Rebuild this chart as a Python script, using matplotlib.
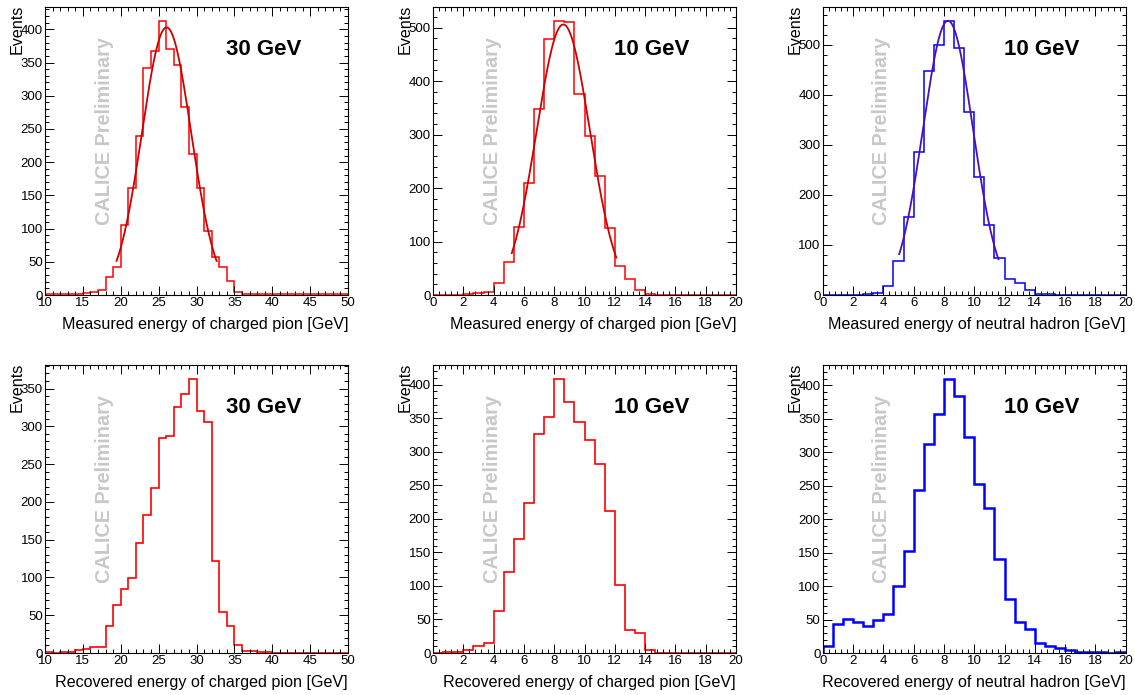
import numpy as np
import matplotlib
matplotlib.use("Agg")
import matplotlib.pyplot as plt
from matplotlib.ticker import MultipleLocator

plt.rcParams['font.family'] = ['Liberation Sans', 'DejaVu Sans']

# --- bin contents -------------------------------------------------------
# 30 GeV charged pion, 40 bins of 1 GeV from 10 to 50
pi30_edges = np.linspace(10, 50, 41)
pi30_measured = [2, 2, 1, 2, 2, 3, 5, 8, 27, 42,
                 106, 161, 239, 342, 368, 413, 371, 347, 283, 213,
                 161, 97, 57, 42, 21, 5, 2, 1, 1, 1,
                 1, 1, 1, 1, 1, 1, 1, 1, 1, 1]
pi30_recovered = [1, 0, 1, 1, 4, 5, 8, 8, 36, 63,
                  85, 99, 146, 182, 218, 285, 287, 326, 343, 363,
                  320, 306, 122, 54, 36, 10, 2, 2, 1, 1,
                  0, 0, 0, 0, 0, 0, 0, 0, 0, 0]

# 10 GeV samples, 30 bins from 0 to 20
e10_edges = np.linspace(0, 20, 31)
pi10_measured = [0, 0, 0, 1, 3, 5, 23, 61, 128, 210,
                 347, 478, 513, 510, 375, 298, 222, 125, 54, 29,
                 9, 2, 0, 0, 0, 0, 0, 0, 0, 0]
pi10_recovered = [0, 1, 1, 4, 10, 15, 62, 121, 170, 223,
                  326, 352, 409, 374, 344, 318, 282, 212, 101, 35,
                  30, 5, 0, 0, 0, 0, 0, 0, 0, 0]
n10_measured = [0, 0, 0, 0, 1, 3, 18, 67, 155, 285,
                448, 499, 548, 493, 366, 235, 140, 74, 31, 23,
                9, 2, 1, 0, 0, 0, 0, 0, 0, 0]
n10_recovered = [11, 43, 51, 47, 40, 49, 58, 100, 153, 243,
                 312, 358, 410, 384, 323, 252, 217, 140, 81, 47,
                 36, 15, 11, 7, 5, 2, 1, 1, 0, 1]

# gaussian fits: (constant, mean, sigma, fit range)
pi30_fit = (403, 26.05, 3.25, (19.45, 32.65))
pi10_fit = (506, 8.6, 1.76, (5.2, 12.1))
n10_fit = (548, 8.27, 1.65, (5.05, 11.6))

energy_labels = ["30 GeV", "10 GeV", "10 GeV"]
x_titles_top = ["Measured energy of charged pion [GeV]",
                "Measured energy of charged pion [GeV]",
                "Measured energy of neutral hadron [GeV]"]
x_titles_bottom = ["Recovered energy of charged pion [GeV]",
                   "Recovered energy of charged pion [GeV]",
                   "Recovered energy of neutral hadron [GeV]"]

RED = "#ff0000"
BLUE = "#0000ff"

W, H = 1135, 695
fig = plt.figure(figsize=(W / 100, H / 100), dpi=100)


def make_axes(left, top, width=303, height=288):
    return fig.add_axes([left / W, 1 - (top + height) / H, width / W, height / H])


def style_axes(ax, edges, major_x, major_y):
    ax.set_xlim(edges[0], edges[-1])
    ax.xaxis.set_major_locator(MultipleLocator(major_x))
    ax.xaxis.set_minor_locator(MultipleLocator(major_x / 5))
    ax.yaxis.set_major_locator(MultipleLocator(major_y))
    ax.yaxis.set_minor_locator(MultipleLocator(major_y / 5))
    ax.tick_params(which='both', direction='in', top=True, right=True,
                   labelsize=9.5, width=0.7, pad=1.5)
    ax.tick_params(which='major', length=6.2)
    ax.tick_params(which='minor', length=3.1)
    for sp in ax.spines.values():
        sp.set_linewidth(0.8)


def draw_panel(ax, edges, counts, color, lw, label, xtitle, major_x, major_y, fit=None, fit_color=None):
    counts = np.asarray(counts, dtype=float)
    ax.stairs(counts, edges, color=color, lw=lw)
    if fit is not None:
        const, mean, sigma, (lo, hi) = fit
        xs = np.linspace(lo, hi, 200)
        ax.plot(xs, const * np.exp(-0.5 * ((xs - mean) / sigma) ** 2),
                color=fit_color, lw=1.3)
    ax.set_ylim(0, counts.max() * 1.05)
    style_axes(ax, edges, major_x, major_y)
    ax.text(0.597, 0.851, label, transform=ax.transAxes, fontsize=16,
            fontweight='bold', ha='left', va='center')
    ax.text(0.195, 0.243, "CALICE Preliminary", transform=ax.transAxes,
            rotation=90, fontsize=14.3, fontweight='bold', color='#c8c8c8',
            ha='center', va='bottom')
    ax.text(1.0, -0.104, xtitle, transform=ax.transAxes, fontsize=11.6,
            ha='right', va='center')
    ax.text(-0.092, 1.007, "Events", transform=ax.transAxes, fontsize=11.6,
            rotation=90, ha='center', va='top')


lefts = [45, 433, 822.7]

ax = make_axes(lefts[0], 7)
draw_panel(ax, pi30_edges, pi30_measured, RED, 1.1, energy_labels[0], x_titles_top[0],
           5, 50, pi30_fit, "#cc0000")
ax = make_axes(lefts[1], 7)
draw_panel(ax, e10_edges, pi10_measured, RED, 1.1, energy_labels[1], x_titles_top[1],
           2, 100, pi10_fit, "#cc0000")
ax = make_axes(lefts[2], 7)
draw_panel(ax, e10_edges, n10_measured, BLUE, 1.1, energy_labels[2], x_titles_top[2],
           2, 100, n10_fit, "#4b10b4")

ax = make_axes(lefts[0], 365)
draw_panel(ax, pi30_edges, pi30_recovered, RED, 1.2, energy_labels[0], x_titles_bottom[0],
           5, 50)
ax = make_axes(lefts[1], 365)
draw_panel(ax, e10_edges, pi10_recovered, RED, 1.2, energy_labels[1], x_titles_bottom[1],
           2, 50)
ax = make_axes(lefts[2], 365)
draw_panel(ax, e10_edges, n10_recovered, BLUE, 1.8, energy_labels[2], x_titles_bottom[2],
           2, 50)

fig.savefig("out.png", dpi=100)
